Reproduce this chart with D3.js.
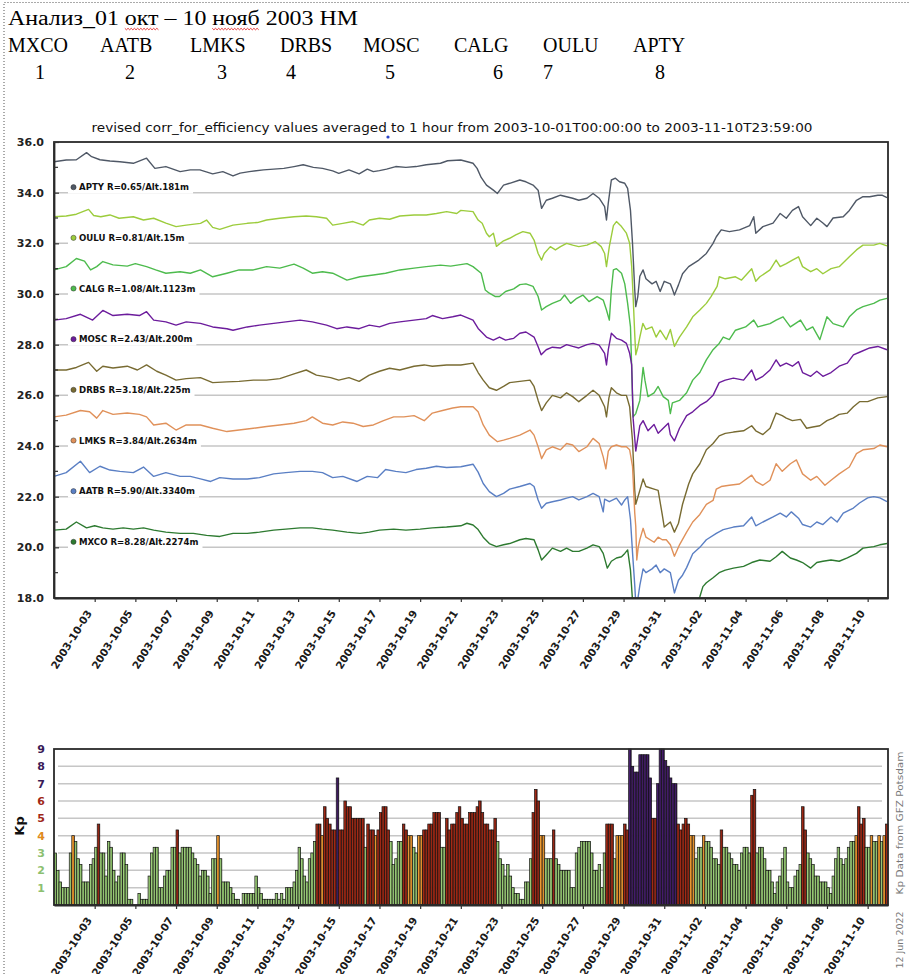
<!DOCTYPE html>
<html>
<head>
<meta charset="utf-8">
<script src="https://cdn.jsdelivr.net/npm/d3@7"></script>
<style>
  html, body { margin: 0; padding: 0; background: #fff; }
  svg { display: block; }
</style>
</head>
<body>
<script>
// ---------------------------------------------------------------------------
// Data
// ---------------------------------------------------------------------------
const headerTitle = "Анализ_01 окт – 10 нояб 2003 НМ";
const headerStations = ["MXCO", "AATB", "LMKS", "DRBS", "MOSC", "CALG", "OULU", "APTY"];
const headerNumbers = ["1", "2", "3", "4", "5", "6", "7", "8"];

const chartTitle = "revised corr_for_efficiency values averaged to 1 hour from 2003-10-01T00:00:00 to 2003-11-10T23:59:00";

// stations, top to bottom, with their legend texts
const seriesNames = ["APTY", "OULU", "CALG", "MOSC", "DRBS", "LMKS", "AATB", "MXCO"];
const legendTexts = [
  "APTY R=0.65/Alt.181m",
  "OULU R=0.81/Alt.15m",
  "CALG R=1.08/Alt.1123m",
  "MOSC R=2.43/Alt.200m",
  "DRBS R=3.18/Alt.225m",
  "LMKS R=3.84/Alt.2634m",
  "AATB R=5.90/Alt.3340m",
  "MXCO R=8.28/Alt.2274m"
];
// legend of each station sits just above this grid value
const legendLevels = [34, 32, 30, 28, 26, 24, 22, 20];

// [days since 2003-10-01T00:00 UTC, plotted value]
const aptyData = [[0,35.22],[0.6,35.29],[1.1,35.3],[1.6,35.58],[1.85,35.42],[2.26,35.3],[2.75,35.25],[3.24,35.22],[3.9,35.16],[4.55,35.36],[4.96,34.96],[5.5,35.03],[5.85,34.93],[6.2,34.83],[6.7,34.9],[7.17,34.9],[7.8,34.74],[8.3,34.83],[8.8,34.66],[9.15,34.77],[9.6,34.83],[10.3,34.9],[10.8,34.93],[11.3,34.96],[11.8,35.03],[12.25,35.1],[12.75,35.0],[13.2,34.96],[13.7,34.86],[14.0,34.76],[14.5,34.9],[15.0,34.74],[15.4,34.93],[15.7,34.83],[16.0,34.87],[16.35,34.93],[16.8,35.03],[17.3,35.0],[17.8,35.03],[18.3,35.1],[19.0,35.16],[19.35,35.26],[20.0,35.29],[20.6,35.16],[20.8,34.96],[21.0,34.6],[21.26,34.3],[21.6,34.1],[21.8,33.97],[22.1,34.3],[22.4,34.37],[22.9,34.5],[23.2,34.43],[23.55,34.3],[23.8,34.1],[23.97,33.38],[24.2,33.7],[24.5,33.78],[24.9,33.9],[25.2,33.84],[25.5,33.78],[25.8,33.7],[26.2,33.78],[26.5,33.97],[26.8,33.78],[27.07,33.45],[27.16,32.92],[27.25,33.6],[27.4,34.5],[27.6,34.57],[27.8,34.43],[28.06,34.37],[28.2,34.17],[28.34,33.3],[28.44,32.0],[28.55,30.16],[28.6,29.5],[28.7,29.9],[28.8,30.7],[28.96,30.95],[29.1,30.6],[29.4,30.4],[29.6,30.5],[29.8,30.1],[30.0,30.5],[30.3,30.4],[30.4,30.2],[30.5,29.96],[30.7,30.36],[30.9,30.8],[31.2,31.08],[31.7,31.34],[32.07,31.6],[32.4,32.0],[32.56,32.26],[32.8,32.53],[33.2,32.46],[33.7,32.53],[34.2,32.7],[34.4,33.05],[34.5,32.4],[34.85,32.66],[35.35,32.8],[35.7,33.18],[36.0,32.99],[36.3,33.3],[36.6,33.45],[36.8,33.05],[37.2,32.7],[37.5,32.99],[37.8,32.8],[38.0,32.66],[38.3,33.0],[38.8,33.05],[39.1,33.3],[39.45,33.7],[39.77,33.84],[40.1,33.84],[40.5,33.9],[40.7,33.9],[40.95,33.8]];

const ouluData = [[0,33.05],[0.6,33.08],[1.1,33.15],[1.7,33.34],[1.95,33.1],[2.3,33.05],[2.75,33.12],[3.2,32.99],[3.9,33.05],[4.4,32.92],[4.9,32.99],[5.5,32.8],[6.0,32.66],[6.5,32.72],[7.2,32.79],[7.5,32.92],[7.8,32.63],[8.15,32.55],[8.8,32.72],[9.5,32.79],[10.0,32.82],[10.45,32.92],[11.1,32.99],[11.8,33.05],[12.4,33.08],[12.9,33.05],[13.4,32.99],[13.7,32.72],[14.2,32.79],[14.7,32.86],[15.2,32.72],[15.5,32.92],[16.0,32.99],[16.5,32.95],[17.0,33.08],[17.7,33.12],[18.3,33.12],[18.8,33.18],[19.3,33.25],[19.8,33.18],[20.0,33.3],[20.6,33.25],[20.85,32.92],[21.05,32.79],[21.26,32.4],[21.4,32.26],[21.6,32.4],[21.75,31.88],[22.1,32.1],[22.4,32.2],[22.7,32.33],[23.05,32.46],[23.4,32.4],[23.6,32.13],[23.8,31.6],[23.97,31.34],[24.1,31.6],[24.4,31.87],[24.65,31.74],[24.9,31.87],[25.2,32.0],[25.5,31.93],[25.8,31.87],[26.2,31.93],[26.6,32.07],[26.9,31.87],[27.07,31.6],[27.16,31.08],[27.3,31.87],[27.5,32.7],[27.65,32.86],[27.9,32.66],[28.14,32.4],[28.3,32.0],[28.4,31.08],[28.47,29.9],[28.55,28.4],[28.6,27.6],[28.7,27.9],[28.8,28.3],[28.95,28.84],[29.1,28.6],[29.4,28.7],[29.6,28.3],[29.8,28.57],[30.1,28.2],[30.3,28.6],[30.5,27.93],[30.75,28.3],[31.1,28.7],[31.4,29.1],[31.75,29.37],[32.07,29.63],[32.3,29.9],[32.6,30.3],[32.7,30.68],[33.0,30.6],[33.5,30.68],[33.8,30.55],[34.3,31.0],[34.5,30.5],[34.7,30.68],[35.2,30.95],[35.5,31.34],[35.7,31.08],[36.0,31.2],[36.3,31.34],[36.6,31.47],[36.8,31.08],[37.2,30.88],[37.5,31.0],[37.8,30.8],[38.2,31.0],[38.6,31.08],[39.1,31.47],[39.45,31.74],[39.77,31.93],[40.3,31.93],[40.6,32.0],[40.95,31.9]];

const calgData = [[0,30.95],[0.6,31.08],[1.1,31.4],[1.5,31.3],[1.8,30.95],[2.1,31.08],[2.4,31.28],[2.9,31.15],[3.6,31.1],[4.0,31.2],[4.55,31.08],[5.0,30.95],[5.5,30.82],[6.2,30.88],[6.7,30.82],[7.2,30.95],[7.8,30.68],[8.5,30.82],[9.1,30.95],[9.8,30.95],[10.45,31.08],[11.1,31.02],[11.8,31.18],[12.25,31.02],[12.7,30.82],[13.2,30.88],[13.7,30.82],[14.4,30.55],[15.04,30.68],[15.7,30.75],[16.3,30.82],[17.0,30.95],[17.7,31.02],[18.3,31.08],[19.0,31.14],[19.5,31.1],[20.3,31.2],[20.6,31.08],[21.0,30.82],[21.2,30.16],[21.4,30.03],[21.7,29.9],[21.9,29.9],[22.2,30.1],[22.6,30.2],[22.9,30.37],[23.2,30.4],[23.55,30.3],[23.8,29.9],[23.97,29.37],[24.2,29.5],[24.5,29.63],[24.9,29.76],[25.1,29.96],[25.4,29.63],[25.7,29.83],[26.0,29.96],[26.3,29.7],[26.7,29.9],[27.0,29.76],[27.16,29.37],[27.3,28.97],[27.4,30.16],[27.5,30.95],[27.65,31.0],[27.9,30.82],[28.06,30.4],[28.2,29.63],[28.34,28.7],[28.47,25.15],[28.6,25.28],[28.8,25.8],[28.96,27.1],[29.05,26.6],[29.2,25.95],[29.5,26.1],[29.7,26.35],[29.95,25.95],[30.2,25.8],[30.3,25.28],[30.4,25.7],[30.75,25.8],[31.1,26.1],[31.4,26.6],[31.75,26.9],[32.07,27.4],[32.4,27.8],[32.7,28.05],[32.9,28.3],[33.2,28.2],[33.5,28.57],[34.0,28.7],[34.4,28.97],[34.6,28.7],[35.2,28.83],[35.5,28.97],[35.84,29.1],[36.2,28.7],[36.7,28.97],[37.0,28.57],[37.3,28.7],[37.65,28.2],[38.0,29.1],[38.3,28.83],[38.8,28.7],[39.1,29.1],[39.45,29.37],[39.77,29.5],[40.3,29.63],[40.6,29.76],[40.95,29.83]];

const moscData = [[0,28.97],[0.6,29.03],[1.3,29.2],[1.9,28.97],[2.4,29.35],[2.9,29.15],[3.6,29.2],[4.2,29.15],[4.55,29.3],[4.9,28.97],[5.5,28.9],[6.0,28.77],[6.5,28.9],[7.2,28.84],[7.8,28.7],[8.5,28.63],[8.8,28.57],[9.5,28.7],[10.1,28.77],[10.8,28.84],[11.4,28.9],[12.1,28.97],[12.7,28.9],[13.4,28.77],[13.9,28.63],[14.4,28.7],[15.0,28.63],[15.5,28.77],[16.0,28.7],[16.5,28.84],[17.0,28.9],[17.7,28.97],[18.3,29.03],[18.6,29.15],[19.1,29.03],[19.6,29.1],[20.0,29.17],[20.6,28.97],[20.85,28.64],[21.26,28.3],[21.6,28.18],[21.9,28.3],[22.2,28.18],[22.6,28.25],[22.9,28.45],[23.2,28.5],[23.6,28.3],[23.8,27.92],[23.95,27.6],[24.2,27.8],[24.5,27.9],[24.9,27.87],[25.2,28.0],[25.5,27.93],[25.8,27.87],[26.2,28.0],[26.5,28.05],[26.8,27.98],[27.07,27.66],[27.16,27.2],[27.25,27.8],[27.4,28.45],[27.65,28.25],[27.9,28.18],[28.14,28.05],[28.3,27.66],[28.4,27.2],[28.47,25.1],[28.6,23.8],[28.7,24.3],[28.8,24.8],[28.96,25.0],[29.2,24.6],[29.5,24.85],[29.7,24.5],[29.95,24.7],[30.2,24.9],[30.3,24.45],[30.5,24.2],[30.75,24.7],[31.1,25.2],[31.4,25.35],[31.75,25.6],[32.07,25.75],[32.4,26.0],[32.7,26.5],[33.0,26.6],[33.4,26.68],[33.9,26.6],[34.3,27.0],[34.5,26.6],[34.85,26.75],[35.2,27.0],[35.5,27.4],[35.7,27.15],[36.0,27.27],[36.3,27.15],[36.6,27.33],[36.8,26.9],[37.2,26.75],[37.5,26.95],[37.8,26.75],[38.2,26.9],[38.6,27.15],[39.0,27.27],[39.3,27.6],[39.6,27.7],[40.1,27.87],[40.5,27.93],[40.95,27.8]];

const drbsData = [[0,27.0],[0.6,27.0],[1.1,27.1],[1.7,27.3],[2.1,26.95],[2.4,27.15],[2.9,27.08],[3.6,27.15],[4.1,27.0],[4.55,27.2],[5.05,26.95],[5.5,26.8],[6.0,26.6],[6.5,26.66],[7.2,26.7],[7.8,26.5],[8.5,26.53],[9.1,26.55],[9.8,26.6],[10.45,26.6],[11.1,26.66],[11.8,26.85],[12.4,27.0],[12.9,26.8],[13.6,26.7],[14.0,26.6],[14.5,26.7],[15.0,26.55],[15.5,26.8],[16.0,26.95],[16.5,27.07],[17.0,27.0],[17.7,27.15],[18.2,27.2],[18.6,27.15],[19.3,27.2],[20.0,27.2],[20.6,27.27],[20.85,26.9],[21.1,26.6],[21.4,26.3],[21.75,26.2],[22.1,26.35],[22.4,26.5],[22.9,26.55],[23.4,26.6],[23.6,26.35],[23.8,25.8],[23.97,25.4],[24.2,25.7],[24.5,26.0],[24.9,25.9],[25.2,26.1],[25.5,25.95],[25.8,25.75],[26.2,26.0],[26.5,26.2],[26.8,26.0],[27.07,25.55],[27.16,25.15],[27.28,25.9],[27.4,26.3],[27.65,26.1],[27.9,26.0],[28.14,26.0],[28.3,25.55],[28.44,24.2],[28.55,22.25],[28.6,21.7],[28.8,22.25],[28.96,22.7],[29.1,22.4],[29.5,22.3],[29.7,22.25],[29.9,21.3],[30.0,20.8],[30.3,21.0],[30.5,20.6],[30.7,20.95],[30.9,21.7],[31.2,22.5],[31.4,22.9],[31.75,23.3],[32.07,23.85],[32.4,24.1],[32.7,24.4],[33.0,24.5],[33.4,24.55],[33.9,24.6],[34.3,24.8],[34.5,24.6],[34.85,24.45],[35.2,24.7],[35.5,25.3],[35.8,25.2],[36.0,25.1],[36.3,25.0],[36.7,25.05],[37.0,24.7],[37.3,24.75],[37.65,24.8],[38.0,25.0],[38.3,25.1],[38.6,25.25],[39.0,25.3],[39.3,25.55],[39.6,25.75],[40.0,25.75],[40.5,25.9],[40.95,25.95]];

const lmksData = [[0,25.15],[0.6,25.22],[1.3,25.4],[1.75,25.35],[2.1,25.1],[2.4,25.4],[2.9,25.25],[3.6,25.3],[4.2,25.25],[4.55,25.15],[4.9,24.83],[5.5,24.9],[6.0,24.63],[6.5,24.83],[7.2,24.83],[7.8,24.7],[8.5,24.57],[9.1,24.63],[9.8,24.7],[10.45,24.77],[11.1,24.83],[11.8,24.9],[12.4,25.0],[12.7,25.15],[13.2,24.9],[13.7,24.83],[14.2,24.95],[14.7,24.9],[15.2,24.77],[15.7,24.83],[16.2,25.0],[16.7,25.15],[17.2,25.15],[17.7,25.2],[18.2,25.0],[18.6,25.3],[19.1,25.4],[19.6,25.5],[20.0,25.55],[20.6,25.55],[20.85,25.35],[21.1,24.83],[21.4,24.43],[21.8,24.17],[22.1,24.23],[22.4,24.3],[22.9,24.43],[23.4,24.63],[23.6,24.43],[23.8,23.97],[23.97,23.5],[24.2,23.85],[24.5,23.97],[24.9,23.85],[25.2,24.1],[25.5,24.04],[25.8,23.78],[26.2,23.97],[26.5,24.3],[26.8,24.1],[27.0,23.57],[27.13,23.1],[27.25,23.8],[27.4,23.97],[27.65,24.04],[27.9,23.97],[28.14,23.97],[28.3,23.85],[28.44,23.2],[28.55,21.35],[28.6,20.82],[28.65,19.5],[28.72,20.0],[28.8,20.3],[28.96,20.75],[29.1,20.4],[29.5,20.2],[29.7,20.4],[29.9,20.3],[30.1,20.3],[30.3,20.1],[30.5,19.65],[30.75,20.1],[31.1,20.6],[31.4,21.0],[31.75,21.3],[32.07,21.7],[32.4,21.85],[32.56,22.3],[32.8,22.4],[33.2,22.45],[33.7,22.5],[34.3,22.85],[34.5,22.6],[34.85,22.45],[35.2,22.65],[35.5,23.3],[35.8,23.0],[36.2,23.3],[36.5,23.45],[36.8,22.9],[37.2,22.65],[37.5,22.8],[37.9,22.45],[38.2,22.65],[38.6,22.9],[39.1,23.17],[39.45,23.7],[39.77,23.85],[40.3,23.9],[40.6,24.04],[40.95,23.97]];

const aatbData = [[0,22.8],[0.6,22.95],[1.3,23.4],[1.75,22.95],[2.26,23.2],[2.75,23.05],[3.24,23.0],[3.9,22.95],[4.4,23.17],[4.9,22.8],[5.5,22.95],[6.2,22.8],[6.7,22.8],[7.2,22.7],[7.7,22.6],[8.15,22.75],[8.8,22.7],[9.5,22.7],[10.1,22.75],[10.8,22.9],[11.4,22.95],[12.1,23.0],[12.7,23.0],[13.2,22.95],[13.7,22.75],[14.2,22.8],[14.9,22.6],[15.4,22.8],[15.9,22.75],[16.3,23.07],[16.8,23.0],[17.3,22.95],[17.8,23.07],[18.3,23.12],[18.8,23.2],[19.3,23.15],[20.0,23.18],[20.6,23.28],[20.85,22.97],[21.1,22.52],[21.4,22.2],[21.75,22.0],[22.1,22.13],[22.4,22.3],[22.9,22.4],[23.4,22.52],[23.6,22.4],[23.8,21.87],[23.97,21.54],[24.2,21.74],[24.5,21.8],[24.9,21.87],[25.2,21.94],[25.5,22.0],[25.8,21.87],[26.2,22.0],[26.5,22.13],[26.8,22.0],[27.0,21.4],[27.07,21.9],[27.3,21.8],[27.65,21.94],[27.9,21.67],[28.06,21.87],[28.2,22.0],[28.34,21.1],[28.44,19.8],[28.55,18.5],[28.6,17.8],[28.7,17.95],[28.8,18.5],[28.96,19.15],[29.1,19.0],[29.4,19.15],[29.6,19.3],[29.8,19.0],[30.0,19.15],[30.3,19.0],[30.5,18.2],[30.7,18.7],[30.9,18.9],[31.1,19.2],[31.4,19.75],[31.75,20.0],[32.07,20.3],[32.56,20.55],[32.9,20.7],[33.4,20.8],[33.9,20.85],[34.3,21.2],[34.5,20.85],[34.85,21.0],[35.35,21.2],[35.7,21.35],[36.0,21.2],[36.25,21.4],[36.6,21.15],[36.8,20.9],[37.2,20.8],[37.5,21.0],[37.8,20.9],[38.2,21.2],[38.5,21.0],[38.8,21.35],[39.3,21.55],[39.6,21.75],[40.0,21.95],[40.3,22.0],[40.6,21.95],[40.95,21.8]];

const mxcoData = [[0,20.68],[0.6,20.72],[1.1,21.0],[1.6,20.77],[2.0,20.85],[2.4,20.77],[2.9,20.72],[3.4,20.77],[3.9,20.72],[4.4,20.77],[4.9,20.68],[5.5,20.6],[6.2,20.55],[6.85,20.55],[7.5,20.47],[8.15,20.43],[8.8,20.55],[9.5,20.55],[10.1,20.6],[10.8,20.68],[11.4,20.72],[12.1,20.77],[12.7,20.77],[13.2,20.72],[13.7,20.68],[14.4,20.6],[15.04,20.55],[15.5,20.6],[16.0,20.68],[16.7,20.72],[17.3,20.68],[18.0,20.72],[18.6,20.77],[19.3,20.8],[20.0,20.85],[20.3,20.95],[20.6,20.88],[20.85,20.7],[21.1,20.4],[21.4,20.15],[21.75,20.03],[22.1,20.1],[22.4,20.15],[22.9,20.3],[23.2,20.35],[23.6,20.3],[23.8,19.9],[23.97,19.5],[24.2,19.7],[24.5,19.97],[24.9,19.84],[25.2,19.97],[25.5,19.84],[25.8,19.84],[26.2,19.97],[26.5,20.1],[26.8,20.03],[27.0,19.76],[27.2,19.18],[27.4,19.45],[27.65,19.58],[27.9,19.63],[28.06,19.76],[28.2,19.9],[28.34,19.1],[28.44,17.9],[28.55,16.8],[28.8,16.9],[29.5,17.0],[30.5,16.8],[31.3,17.3],[31.75,18.05],[31.9,18.45],[32.07,18.6],[32.4,18.8],[32.7,19.0],[33.0,19.1],[33.4,19.18],[33.9,19.25],[34.3,19.4],[34.7,19.5],[35.2,19.45],[35.5,19.63],[35.8,19.84],[36.2,19.58],[36.5,19.5],[36.8,19.4],[37.2,19.18],[37.5,19.4],[37.8,19.45],[38.2,19.5],[38.6,19.45],[39.0,19.58],[39.45,19.76],[39.77,19.97],[40.3,20.03],[40.6,20.1],[40.95,20.15]];

const seriesData = [aptyData, ouluData, calgData, moscData, drbsData, lmksData, aatbData, mxcoData];

const yTickValues = [18, 20, 22, 24, 26, 28, 30, 32, 34, 36];
const yMinorTicks = [19, 21, 23, 25, 27, 29, 31, 33, 35];
const yGridValues = [20, 22, 24, 26, 28, 30, 32, 34];

const dateTicks = ["2003-10-03","2003-10-05","2003-10-07","2003-10-09","2003-10-11","2003-10-13",
  "2003-10-15","2003-10-17","2003-10-19","2003-10-21","2003-10-23","2003-10-25","2003-10-27",
  "2003-10-29","2003-10-31","2003-11-02","2003-11-04","2003-11-06","2003-11-08","2003-11-10"];

// 3-hourly Kp, eight values per day from 2003-10-01 to 2003-11-10
const kpValues = [
  3, 2, 1.33, 1, 1, 1, 3, 4,                    // 10-01
  3.67, 2.67, 2.33, 1.33, 1.33, 1.33, 2.33, 2.67, // 10-02
  3.33, 4.67, 3, 3, 1.67, 3.67, 3.33, 2,        // 10-03
  1.33, 1.67, 3, 3, 2.33, 0.33, 0.33, 0,        // 10-04
  0, 0.67, 0.33, 0.33, 0.33, 1.67, 3, 3.33,     // 10-05
  3.33, 1, 1, 1.67, 2, 2, 3.33, 3.33,           // 10-06
  4.33, 3, 3.33, 3.33, 3.33, 3.33, 3, 2.67,     // 10-07
  2.33, 1.67, 2, 2, 1.67, 0.67, 2.67, 2.67,     // 10-08
  4, 2.67, 1.33, 1.33, 1.33, 1, 0.67, 0.33,     // 10-09
  0.33, 0, 0.67, 0.67, 0.67, 0.67, 0.67, 1.67,  // 10-10
  1, 0.67, 0.33, 0.33, 0.33, 0.33, 0.33, 0.67,  // 10-11
  0.33, 0.67, 0.33, 1, 1, 1, 1.33, 2,           // 10-12
  3.33, 2.67, 1.67, 1.33, 2.67, 3, 3.67, 4.67,  // 10-13
  4.67, 4, 5.67, 5, 4.67, 4.33, 4.33, 7.33,     // 10-14
  4.33, 4.33, 6, 5.67, 5.67, 5, 5, 5,           // 10-15
  5, 5, 3.33, 4.67, 4.33, 4.33, 4, 4.33,        // 10-16
  5.33, 5.67, 5.67, 4.33, 3.67, 2.33, 2.67, 3.67, // 10-17
  3.67, 4.67, 4.33, 4, 4, 3.33, 3, 4,           // 10-18
  4, 4.33, 4.33, 4.67, 4.67, 5.33, 5.33, 5.33,  // 10-19
  3.33, 3.33, 5, 4.33, 4.67, 4.67, 5.33, 5.67,  // 10-20
  5, 4.67, 4.67, 5.33, 5.33, 5.33, 5.67, 6,     // 10-21
  5.33, 4.67, 4.67, 4.33, 4.33, 5, 3.67, 2.67,  // 10-22
  2.33, 1.67, 2.33, 1.67, 1, 0.67, 0.67, 0.33,  // 10-23
  0.33, 1.33, 1.33, 2.67, 5.33, 6.67, 6, 4,     // 10-24
  4, 2.67, 2.67, 2.67, 4.33, 2.67, 2.33, 2,     // 10-25
  2, 2, 2, 1, 1, 3, 3.33, 3.67,                 // 10-26
  3.67, 3.67, 3.67, 3, 2, 2, 2.33, 1,           // 10-27
  3, 4.67, 4.67, 4.67, 2.67, 4, 4, 4,           // 10-28
  4.67, 4.33, 9, 8, 7.67, 7.67, 8.67, 8.67,     // 10-29
  8.67, 8.67, 7.33, 5, 5, 7, 9, 9,              // 10-30
  8.33, 8, 7.33, 7, 7, 4.67, 4.33, 4.67,        // 10-31
  5, 4.67, 4, 4, 2.67, 3.33, 3.33, 4,           // 11-01
  3.67, 3.67, 3.33, 2.67, 2.67, 2.33, 4.33, 3.33, // 11-02
  3.33, 3, 2.67, 2.33, 2.33, 2, 3, 3.33,        // 11-03
  3.33, 3, 6.33, 6.67, 3, 3.33, 3.33, 2.67,     // 11-04
  2, 2, 1.33, 0.67, 1.33, 1.67, 2.67, 3.33,     // 11-05
  1.33, 1, 1, 1.67, 2, 2.33, 5.67, 4.33,        // 11-06
  3, 2.67, 2.33, 1.67, 1.67, 1.33, 1.33, 1.33,  // 11-07
  1, 0.67, 1.67, 2.67, 3.33, 2.67, 2.33, 2.67,  // 11-08
  3.33, 3.67, 3.67, 4, 5.67, 4.67, 5, 3.33,     // 11-09
  3.33, 4, 3.67, 3.67, 4, 3.67, 4, 4.67         // 11-10
];
const kpTickValues = [1, 2, 3, 4, 5, 6, 7, 8, 9];

// ---------------------------------------------------------------------------
// Styles
// ---------------------------------------------------------------------------
const seriesColors = ["#4f5866", "#9ccc3c", "#4dbb4d", "#6c1c9c", "#786b32", "#e0915a", "#5a7fc4", "#2d7a30"];
const kpLabelColors = { 1: "#8cc070", 2: "#8cc070", 3: "#8cc070", 4: "#e08a20", 5: "#a02818", 6: "#a02818", 7: "#3a1b58", 8: "#3a1b58", 9: "#3a1b58" };
const kpClassOf = v => v < 3.8 ? "g" : v < 4.2 ? "o" : v < 6.9 ? "r" : "p";
const kpFills = {
  g: ["#c2e6a0", "#5d9a3c"],
  o: ["#f6b24a", "#d0700f"],
  r: ["#c03a1e", "#6a1008"],
  p: ["#5a2c86", "#200838"]
};

// ---------------------------------------------------------------------------
// Layout
// ---------------------------------------------------------------------------
const W = 909, H = 974;
const plotL = 54, plotR = 888;
const top1 = 142, bot1 = 598;   // count-rate panel
const top2 = 749, bot2 = 905;   // Kp panel
const DAY = 864e5;
const t0 = Date.UTC(2003, 9, 1);
const tEnd = t0 + 41 * DAY;
const toDate = d => new Date(t0 + d * DAY);
const parseDay = d3.utcParse("%Y-%m-%d");

const svg = d3.select("body").append("svg")
  .attr("width", W).attr("height", H)
  .style("font-family", "'DejaVu Sans', sans-serif");

const defs = svg.append("defs");

// dotted page margin
svg.append("path")
  .attr("d", `M4,${H} V2.5 H${W}`)
  .attr("fill", "none").attr("stroke", "#555")
  .attr("stroke-width", 1).attr("stroke-dasharray", "1,2");

// ---------------------------------------------------------------------------
// Header lines
// ---------------------------------------------------------------------------
const header = svg.append("g")
  .style("font-family", "'Liberation Serif', 'Times New Roman', serif")
  .style("font-size", "20px").attr("fill", "#000");

const titleText = header.append("text")
  .attr("x", 8).attr("y", 25)
  .attr("textLength", 350).attr("lengthAdjust", "spacingAndGlyphs")
  .text(headerTitle);

// spell-check style wavy underline under two words
["окт", "нояб"].forEach(word => {
  const node = titleText.node();
  const i = headerTitle.indexOf(word);
  const xs = node.getStartPositionOfChar(i).x;
  const xe = node.getEndPositionOfChar(i + word.length - 1).x;
  const yb = 28.5;
  const pts = [];
  let k = 0;
  for (let xx = xs; xx <= xe; xx += 1.6) pts.push([xx, yb + (k++ % 2 ? 1.3 : -0.2)]);
  header.append("path")
    .attr("d", d3.line()(pts))
    .attr("fill", "none").attr("stroke", "#e02424").attr("stroke-width", 0.9);
});

const headerStationX = [8, 100, 190, 280, 363, 454, 543, 633];
const headerNumberX = [40, 130, 222, 291, 390, 498, 548, 660];

header.selectAll("text.station").data(headerStations).join("text")
  .attr("class", "station")
  .attr("x", (d, i) => headerStationX[i]).attr("y", 52)
  .text(d => d);

header.selectAll("text.num").data(headerNumbers).join("text")
  .attr("class", "num")
  .attr("x", (d, i) => headerNumberX[i]).attr("y", 79)
  .attr("text-anchor", "middle")
  .text(d => d);

// ---------------------------------------------------------------------------
// Count-rate panel
// ---------------------------------------------------------------------------
const x = d3.scaleUtc().domain([new Date(t0), new Date(tEnd)]).range([plotL, plotR]);
const y = d3.scaleLinear().domain([18, 36]).range([bot1, top1]);

svg.append("text")
  .attr("x", 452).attr("y", 131.5)
  .attr("text-anchor", "middle")
  .attr("textLength", 721).attr("lengthAdjust", "spacingAndGlyphs")
  .style("font-size", "11.5px").attr("fill", "#111")
  .text(chartTitle);

svg.append("circle").attr("cx", 388).attr("cy", 137).attr("r", 1.6).attr("fill", "#2a44c8");

// grid
svg.append("g").selectAll("line").data(yGridValues).join("line")
  .attr("x1", plotL).attr("x2", plotR)
  .attr("y1", d => y(d)).attr("y2", d => y(d))
  .attr("stroke", "#c6c6c6").attr("stroke-width", 1.5);

// station legends, each on a white patch that breaks the grid line below it
const legend = svg.append("g");
seriesNames.forEach((name, i) => {
  const cy = y(legendLevels[i]) - 5.5;
  const g = legend.append("g");
  const rect = g.append("rect").attr("fill", "#fff");
  g.append("circle").attr("cx", 73.5).attr("cy", cy).attr("r", 2.6)
    .attr("fill", seriesColors[i]).attr("stroke", "#333").attr("stroke-width", 0.5);
  const t = g.append("text")
    .attr("x", 79).attr("y", cy).attr("dy", "0.35em")
    .style("font-size", "8.6px").style("font-weight", "bold").attr("fill", "#111")
    .text(legendTexts[i]);
  const w = t.node().getComputedTextLength();
  rect.attr("x", 68).attr("y", cy - 6.5).attr("width", 79 + w + 4 - 68).attr("height", 13);
});

// lines
defs.append("clipPath").attr("id", "plot1clip")
  .append("rect").attr("x", plotL).attr("y", top1).attr("width", plotR - plotL).attr("height", bot1 - top1);

const line = d3.line().x(d => x(toDate(d[0]))).y(d => y(d[1]));
svg.append("g").attr("clip-path", "url(#plot1clip)")
  .selectAll("path").data(seriesData).join("path")
  .attr("d", line)
  .attr("fill", "none")
  .attr("stroke", (d, i) => seriesColors[i])
  .attr("stroke-width", 1.4)
  .attr("stroke-linejoin", "round");

// frame
svg.append("rect")
  .attr("x", plotL).attr("y", top1).attr("width", plotR - plotL).attr("height", bot1 - top1)
  .attr("fill", "none").attr("stroke", "#2a2a2a").attr("stroke-width", 1.8);

// y axis
const yAxisG = svg.append("g").attr("transform", `translate(${plotL},0)`)
  .call(d3.axisLeft(y).tickValues(yTickValues).tickFormat(d3.format(".1f"))
    .tickSize(-5).tickSizeOuter(0).tickPadding(10));
yAxisG.select(".domain").attr("stroke", "#2a2a2a").attr("stroke-width", 1.8);
yAxisG.selectAll(".tick line").attr("stroke", "#333").attr("stroke-width", 1.2);
yAxisG.selectAll(".tick text")
  .attr("font-family", "'DejaVu Sans', sans-serif")
  .attr("font-size", 11).attr("font-weight", "bold").attr("fill", "#222");

svg.append("g").selectAll("line").data(yMinorTicks).join("line")
  .attr("x1", plotL).attr("x2", plotL + 4)
  .attr("y1", d => y(d)).attr("y2", d => y(d))
  .attr("stroke", "#333").attr("stroke-width", 1.2);

// x axis (shared style for both panels)
function dateAxis(yPos) {
  const g = svg.append("g").attr("transform", `translate(0,${yPos})`)
    .call(d3.axisBottom(x).tickValues(dateTicks.map(parseDay))
      .tickFormat(d3.utcFormat("%Y-%m-%d")).tickSize(4).tickSizeOuter(0));
  g.select(".domain").attr("stroke", "#2a2a2a").attr("stroke-width", 1.8);
  g.selectAll(".tick line").attr("stroke", "#333").attr("stroke-width", 1.2);
  g.selectAll(".tick text")
    .attr("font-family", "'DejaVu Sans', sans-serif")
    .attr("font-size", 10.5).attr("font-weight", "bold").attr("fill", "#1a1a1a")
    .attr("x", 0).attr("y", 0).attr("dy", "0.35em")
    .attr("text-anchor", "end")
    .attr("transform", "translate(-6,13) rotate(-58)");
  return g;
}
dateAxis(bot1);

// ---------------------------------------------------------------------------
// Kp panel
// ---------------------------------------------------------------------------
const yk = d3.scaleLinear().domain([0, 9]).range([bot2, top2]);

Object.entries(kpFills).forEach(([key, [c0, c1]]) => {
  const gr = defs.append("linearGradient").attr("id", "kp-" + key)
    .attr("x1", 0).attr("x2", 1).attr("y1", 0).attr("y2", 0);
  gr.append("stop").attr("offset", "0%").attr("stop-color", c0);
  gr.append("stop").attr("offset", "100%").attr("stop-color", c1);
});

svg.append("g").selectAll("line").data(kpTickValues.filter(v => v < 9)).join("line")
  .attr("x1", plotL + 4).attr("x2", plotR - 6)
  .attr("y1", d => yk(d)).attr("y2", d => yk(d))
  .attr("stroke", "#c6c6c6").attr("stroke-width", 1.5);

const SLOT = 3 * 3600e3;
svg.append("g").selectAll("rect").data(kpValues).join("rect")
  .attr("x", (v, i) => x(new Date(t0 + i * SLOT)))
  .attr("width", (v, i) => x(new Date(t0 + (i + 1) * SLOT)) - x(new Date(t0 + i * SLOT)))
  .attr("y", v => yk(v))
  .attr("height", v => yk(0) - yk(v))
  .attr("fill", v => `url(#kp-${kpClassOf(v)})`)
  .attr("stroke", "#101010").attr("stroke-width", 0.7);

svg.append("rect")
  .attr("x", plotL).attr("y", top2).attr("width", plotR - plotL).attr("height", bot2 - top2)
  .attr("fill", "none").attr("stroke", "#2a2a2a").attr("stroke-width", 1.8);

svg.append("g").selectAll("text").data(kpTickValues).join("text")
  .attr("x", 41).attr("y", d => yk(d)).attr("dy", "0.35em")
  .attr("text-anchor", "middle")
  .style("font-size", "11px").style("font-weight", "bold")
  .attr("fill", d => kpLabelColors[d])
  .text(d => d);

svg.append("text")
  .attr("transform", "translate(24,826) rotate(-90)")
  .attr("text-anchor", "middle")
  .style("font-size", "13px").style("font-weight", "bold").attr("fill", "#111")
  .text("Kp");

dateAxis(bot2);

svg.append("text")
  .attr("transform", "translate(903,823) rotate(-90)")
  .attr("text-anchor", "middle")
  .attr("textLength", 143).attr("lengthAdjust", "spacingAndGlyphs")
  .style("font-size", "9.5px").attr("fill", "#777")
  .text("Kp Data from GFZ Potsdam");

svg.append("text")
  .attr("transform", "translate(903,940) rotate(-90)")
  .attr("text-anchor", "middle")
  .style("font-size", "9.5px").attr("fill", "#777")
  .text("12 Jun 2022");
</script>
</body>
</html>
